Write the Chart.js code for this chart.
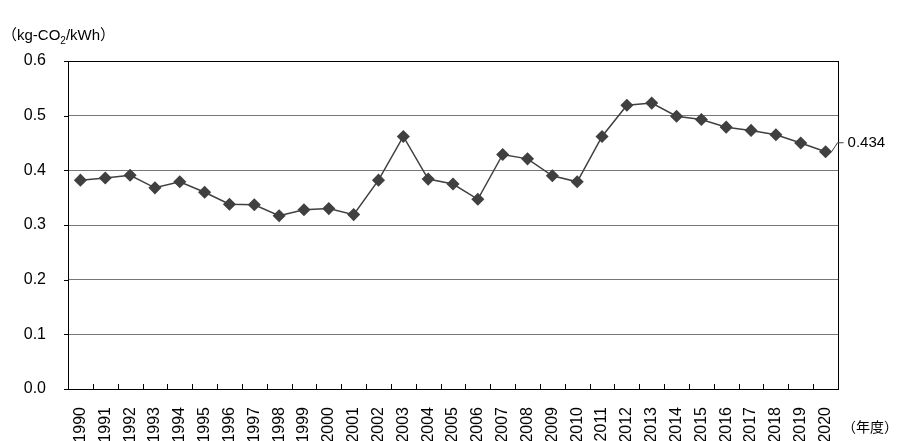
<!DOCTYPE html>
<html>
<head>
<meta charset="utf-8">
<script src="https://cdn.jsdelivr.net/npm/chart.js@4/dist/chart.umd.min.js"></script>
<style>
  html, body { margin: 0; padding: 0; background: #fff; }
  #wrap { width: 903px; height: 441px; }
</style>
</head>
<body>
<div id="wrap"><canvas id="c"></canvas></div>
<script>
const years = [];
for (let y = 1990; y <= 2020; y++) years.push(String(y));
const factors = [0.382, 0.386, 0.391, 0.368, 0.379, 0.360, 0.338, 0.337, 0.317, 0.328, 0.330, 0.319,
  0.382, 0.462, 0.384, 0.375, 0.347, 0.429, 0.421, 0.390, 0.379, 0.462, 0.519, 0.523, 0.499, 0.493,
  0.479, 0.473, 0.465, 0.450, 0.434];
const yTicks = [0.0, 0.1, 0.2, 0.3, 0.4, 0.5, 0.6];
const lastLabel = '0.434';

const font = '"Liberation Sans", Arial, sans-serif';

const extras = {
  id: 'extras',
  afterDraw(chart) {
    const ctx = chart.ctx;
    const area = chart.chartArea;
    ctx.save();
    ctx.strokeStyle = '#000';
    ctx.lineWidth = 1;
    ctx.strokeRect(area.left + 0.5, area.top + 0.5, area.right - area.left, area.bottom - area.top);

    // inward tick marks between categories
    const step = (area.right - area.left) / years.length;
    ctx.beginPath();
    for (let i = 1; i < years.length; i++) {
      const tx = Math.round(area.left + i * step) + 0.5;
      ctx.moveTo(tx, area.bottom);
      ctx.lineTo(tx, area.bottom - 5);
    }
    // small outward ticks on y axis
    chart.scales.y.ticks.forEach(t => {
      const ty = Math.round(chart.scales.y.getPixelForValue(t.value)) + 0.5;
      ctx.moveTo(area.left - 4, ty);
      ctx.lineTo(area.left, ty);
    });
    ctx.stroke();

    // unit title with subscript
    ctx.fillStyle = '#000';
    ctx.textBaseline = 'alphabetic';
    let x = 2;
    const base = 40;
    const parts = [['（kg-CO', 15, 0], ['2', 10, 4], ['/kWh）', 15, 0]];
    parts.forEach(p => {
      ctx.font = p[1] + 'px "Liberation Sans", "Noto Sans CJK JP", sans-serif';
      ctx.fillText(p[0], x, base + p[2]);
      x += ctx.measureText(p[0]).width;
    });

    // (年度)
    ctx.font = '14px "Noto Sans CJK JP", ' + font;
    ctx.fillText('（年度）', 842, 432);

    // last value label
    const meta = chart.getDatasetMeta(0);
    const pt = meta.data[meta.data.length - 1];
    ctx.beginPath();
    ctx.moveTo(pt.x + 6, pt.y);
    ctx.lineTo(pt.x + 12, pt.y - 9);
    ctx.lineTo(pt.x + 18, pt.y - 9);
    ctx.strokeStyle = '#404040';
    ctx.stroke();
    ctx.font = '15px ' + font;
    ctx.textBaseline = 'middle';
    ctx.fillText(lastLabel, pt.x + 22, pt.y - 9);
    ctx.restore();
  }
};

new Chart(document.getElementById('c'), {
  type: 'line',
  data: {
    labels: years,
    datasets: [{
      data: factors,
      borderColor: '#404040',
      borderWidth: 1.5,
      pointStyle: 'rectRot',
      pointRadius: 5.5,
      pointBackgroundColor: '#404040',
      pointBorderColor: '#404040',
      tension: 0
    }]
  },
  options: {
    responsive: true,
    maintainAspectRatio: false,
    animation: false,
    layout: { padding: { top: 61, right: 65, left: 0, bottom: 0 } },
    plugins: { legend: { display: false }, tooltip: { enabled: false } },
    scales: {
      x: {
        offset: true,
        grid: { display: false },
        border: { display: true, color: '#000' },
        ticks: { color: '#000', font: { family: font, size: 16 }, minRotation: 90, maxRotation: 90, autoSkip: false, padding: 10 },
        afterFit(s) { s.height = 52; }
      },
      y: {
        min: 0, max: 0.6,
        afterBuildTicks(s) { s.ticks = yTicks.map(v => ({ value: v })); },
        grid: { color: '#777', drawTicks: false },
        border: { display: false },
        ticks: { color: '#000', font: { family: font, size: 16 }, padding: 22, callback: v => v.toFixed(1) },
        afterFit(s) { s.width = 68; }
      }
    }
  },
  plugins: [extras]
});
</script>
</body>
</html>
